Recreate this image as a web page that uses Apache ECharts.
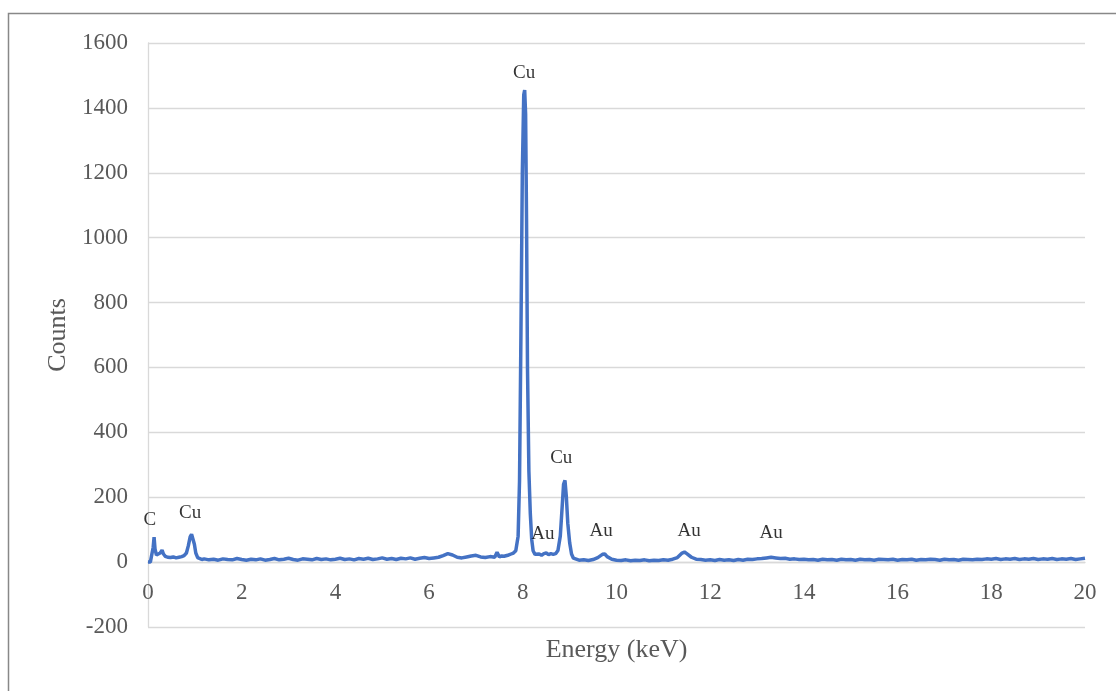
<!DOCTYPE html>
<html>
<head>
<meta charset="utf-8">
<script src="https://cdn.jsdelivr.net/npm/echarts@6/dist/echarts.min.js"></script>
<style>html,body{margin:0;padding:0;background:#fff;}#c{width:1116px;height:691px;}</style>
</head>
<body>
<div id="c"></div>
<script>
const energy = [0.00,0.05,0.09,0.11,0.13,0.15,0.18,0.22,0.26,0.30,0.33,0.37,0.42,0.48,0.54,0.60,0.66,0.72,0.77,0.82,0.86,0.90,0.93,0.96,0.99,1.02,1.06,1.10,1.15,
1.2,1.3,1.4,1.5,1.6,1.7,1.8,1.9,2.0,2.1,2.2,2.3,2.4,2.5,2.6,2.7,2.8,2.9,3.0,3.1,3.2,3.3,3.4,3.5,3.6,3.7,3.8,3.9,4.0,4.1,4.2,4.3,4.4,4.5,4.6,4.7,4.8,4.9,5.0,5.1,5.2,5.3,5.4,5.5,5.6,5.7,5.8,5.9,6.0,6.1,6.2,6.3,6.4,6.5,6.6,6.7,6.8,6.9,7.0,7.1,7.2,7.3,7.4,7.45,7.5,7.55,7.6,7.7,7.75,7.8,7.85,7.9,7.93,7.96,7.99,8.02,8.04,8.06,8.08,8.10,8.13,8.16,8.19,8.22,8.26,8.3,8.35,8.4,8.45,8.5,8.55,8.6,8.65,8.7,8.75,8.80,8.84,8.87,8.90,8.93,8.96,9.00,9.04,9.08,9.12,
9.2,9.3,9.4,9.5,9.6,9.7,9.75,9.8,9.9,10.0,10.1,10.2,10.3,10.4,10.5,10.6,10.7,10.8,10.9,11.0,11.1,11.2,11.3,11.4,11.45,11.5,11.6,11.7,11.8,11.9,12.0,12.1,12.2,12.3,12.4,12.5,12.6,12.7,12.8,12.9,13.0,13.1,13.2,13.3,13.4,13.5,13.6,13.7,13.8,13.9,14.0,14.1,14.2,14.3,14.4,14.5,14.6,14.7,14.8,14.9,15.0,15.1,15.2,15.3,15.4,15.5,15.6,15.7,15.8,15.9,16.0,16.1,16.2,16.3,16.4,16.5,16.6,16.7,16.8,16.9,17.0,17.1,17.2,17.3,17.4,17.5,17.6,17.7,17.8,17.9,18.0,18.1,18.2,18.3,18.4,18.5,18.6,18.7,18.8,18.9,19.0,19.1,19.2,19.3,19.4,19.5,19.6,19.7,19.8,19.9,20.0];
const counts = [0,0,2,45,77,40,22,20,28,37,25,18,15,14,16,13,15,17,20,28,50,78,86,80,55,28,14,9,8,
10,7,9,6,10,8,7,11,8,6,9,7,10,6,8,11,7,9,12,8,6,10,9,7,11,8,10,7,9,12,8,10,7,11,9,12,8,10,13,9,11,8,12,10,13,9,12,14,11,13,15,20,26,22,15,13,16,19,21,16,14,17,15,30,16,19,18,22,25,28,35,80,250,700,1200,1440,1455,1380,1050,600,280,150,70,35,24,22,25,21,26,28,23,26,24,26,36,80,170,240,252,200,120,60,25,12,8,
6,7,5,8,14,24,25,17,9,6,5,7,4,6,5,7,4,6,5,7,6,9,14,28,31,26,15,9,8,6,7,5,8,6,7,5,8,6,9,8,10,11,13,15,13,11,12,9,10,8,9,7,8,6,9,7,8,6,9,7,8,6,9,7,8,6,9,8,7,9,6,8,7,9,6,8,7,9,8,6,9,7,8,6,9,8,7,9,8,10,9,11,8,10,9,11,8,10,9,11,8,10,9,11,8,10,9,11,8,10,12];

const peakLabels = ["C","Cu","Cu","Au","Cu","Au","Au","Au"];
const peakLabelX = [0.04,0.90,8.03,8.43,8.82,9.67,11.55,13.3];
const peakLabelY = [129,151,1507,86,320,96,96,89];

const yTicks = {min:-200, max:1600, interval:200};
const xTicks = {min:0, max:20, interval:2};

const serif = '"Liberation Serif","Times New Roman",serif';
const chart = echarts.init(document.getElementById('c'));
chart.setOption({
  animation:false,
  backgroundColor:'#fff',
  grid:{left:148,right:31,top:43,bottom:64,containLabel:false,outerBoundsMode:'none'},
  graphic:[{type:'rect',shape:{x:8.5,y:13.5,width:1200,height:800},style:{fill:'none',stroke:'#888',lineWidth:1.5},silent:true}],
  xAxis:{type:'value',min:xTicks.min,max:xTicks.max,interval:xTicks.interval,
    name:'Energy (keV)',nameLocation:'middle',nameGap:75,
    nameTextStyle:{fontFamily:serif,fontSize:26,color:'#595959'},
    axisLine:{show:true,onZero:false,lineStyle:{color:'#d9d9d9',width:1.3}},
    axisTick:{show:false},
    axisLabel:{fontFamily:serif,fontSize:23,color:'#595959',margin:19,formatter:v=>String(v)},
    splitLine:{show:false}},
  yAxis:{type:'value',min:yTicks.min,max:yTicks.max,interval:yTicks.interval,
    name:'Counts',nameLocation:'middle',nameGap:71,nameRotate:90,
    nameTextStyle:{fontFamily:serif,fontSize:26,color:'#595959'},
    axisLine:{show:true,onZero:false,lineStyle:{color:'#d9d9d9',width:1.3}},
    axisTick:{show:false},
    axisLabel:{fontFamily:serif,fontSize:23,color:'#595959',margin:20,formatter:v=>String(v)},
    splitLine:{lineStyle:{color:'#d9d9d9',width:1.3}}},
  series:[
    {type:'line',data:energy.map((e,i)=>[e,counts[i]]),showSymbol:false,symbol:'none',
     lineStyle:{color:'#4472c4',width:3.5},z:3},
    {type:'scatter',data:peakLabelX.map((x,i)=>[x,peakLabelY[i]]),symbolSize:1,
     itemStyle:{color:'rgba(0,0,0,0)'},
     label:{show:true,position:'inside',formatter:p=>peakLabels[p.dataIndex],
       fontFamily:serif,fontSize:19,color:'#000'},z:4}
  ]
});
// place the x axis at y = 0, using the library's own y scale
const yZero = chart.convertToPixel({yAxisIndex:0}, 0);
const yBottom = chart.convertToPixel({yAxisIndex:0}, yTicks.min);
chart.setOption({xAxis:{offset: yZero - yBottom}});
</script>
</body>
</html>
